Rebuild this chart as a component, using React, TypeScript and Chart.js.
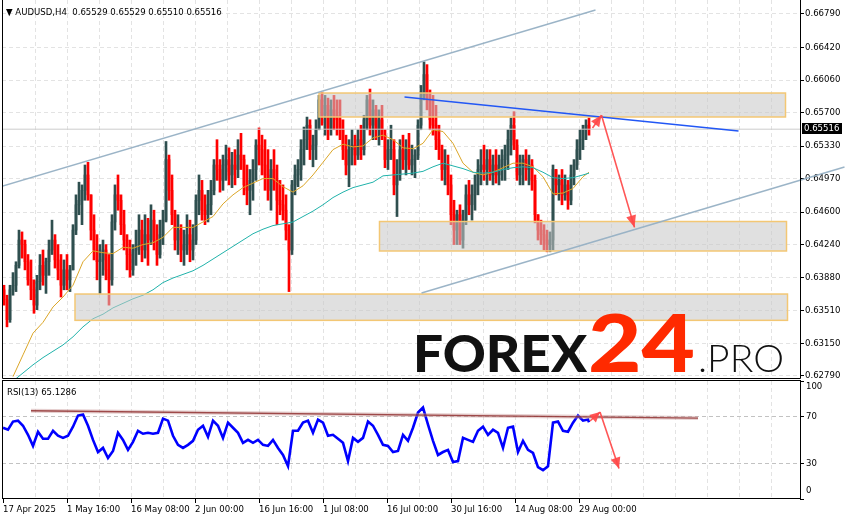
import React, { useEffect, useRef } from 'react';
import { Chart, registerables } from 'chart.js';

Chart.register(...registerables);

// ---------------- DATA ----------------
const HEADER = '\u25BC AUDUSD,H4  0.65529 0.65529 0.65510 0.65516';
const RSI_LABEL = 'RSI(13) 65.1286';
const LAST_PRICE = 0.65516;
const FIRST_OPEN = 0.6374;
const CANDLE_STEP = 3; // H4 bars per drawn candle

const CLOSE = [
  0.6363,0.6341,0.6374,0.6379,0.6401,0.6429,0.6424,0.6405,0.6385,0.6374,
  0.6357,0.6383,0.6401,0.6390,0.6405,0.6418,0.6429,0.6407,0.6396,0.6379,
  0.6396,0.6385,0.6396,0.6440,0.6468,0.6473,0.6484,0.6501,0.6479,0.6440,
  0.6418,0.6405,0.6407,0.6418,0.6396,0.6385,0.6449,0.6479,0.6473,0.6446,
  0.6429,0.6413,0.6396,0.6418,0.6424,0.6440,0.6418,0.6435,0.6429,0.6451,
  0.6429,0.6413,0.6435,0.6451,0.6518,0.6484,0.6457,0.6429,0.6440,0.6418,
  0.6424,0.6435,0.6418,0.6429,0.6473,0.6484,0.6462,0.6457,0.6468,0.6484,
  0.6512,0.6507,0.6495,0.6512,0.6518,0.6501,0.6512,0.6507,0.6523,0.6518,
  0.6490,0.6484,0.6495,0.6507,0.6534,0.6529,0.6512,0.6501,0.6484,0.6507,
  0.6495,0.6473,0.6468,0.6462,0.6440,0.6418,0.6490,0.6501,0.6507,0.6529,
  0.6540,0.6556,0.6529,0.6534,0.6551,0.6584,0.6567,0.6578,0.6551,0.6573,
  0.6567,0.6562,0.6551,0.6529,0.6512,0.6529,0.6534,0.6523,0.6540,0.6529,
  0.6562,0.6584,0.6556,0.6573,0.6551,0.6562,0.6545,0.6518,0.6529,0.6529,
  0.6490,0.6501,0.6529,0.6518,0.6529,0.6512,0.6518,0.6523,0.6556,0.6589,
  0.6612,0.6584,0.6562,0.6556,0.6540,0.6529,0.6507,0.6512,0.6490,0.6457,
  0.6440,0.6457,0.6429,0.6451,0.6479,0.6468,0.6479,0.6490,0.6507,0.6512,
  0.6507,0.6518,0.6501,0.6512,0.6501,0.6512,0.6518,0.6523,0.6540,0.6556,
  0.6534,0.6501,0.6512,0.6518,0.6507,0.6512,0.6495,0.6457,0.6440,0.6435,
  0.6429,0.6424,0.6429,0.6507,0.6490,0.6495,0.6479,0.6490,0.6473,0.6501,
  0.6512,0.6529,0.6540,0.6551,0.6556,0.6552
];

const HIGH = [
  0.6379,0.6368,0.6379,0.6393,0.6405,0.6440,0.6438,0.6429,0.6413,0.6407,
  0.6385,0.6390,0.6413,0.6418,0.6409,0.6429,0.6451,0.6435,0.6424,0.6413,
  0.6407,0.6413,0.6401,0.6446,0.6479,0.6493,0.6490,0.6512,0.6515,0.6479,
  0.6457,0.6435,0.6424,0.6429,0.6424,0.6413,0.6457,0.6490,0.6501,0.6479,
  0.6462,0.6435,0.6429,0.6424,0.6440,0.6457,0.6451,0.6457,0.6453,0.6468,
  0.6462,0.6446,0.6451,0.6462,0.6538,0.6523,0.6501,0.6462,0.6457,0.6446,
  0.6440,0.6457,0.6451,0.6446,0.6479,0.6501,0.6495,0.6479,0.6484,0.6495,
  0.6518,0.6540,0.6518,0.6523,0.6534,0.6531,0.6526,0.6529,0.6540,0.6547,
  0.6523,0.6512,0.6507,0.6518,0.6540,0.6553,0.6545,0.6540,0.6529,0.6518,
  0.6529,0.6512,0.6495,0.6490,0.6479,0.6446,0.6495,0.6512,0.6518,0.6540,
  0.6554,0.6565,0.6562,0.6545,0.6562,0.6589,0.6592,0.6589,0.6586,0.6584,
  0.6589,0.6584,0.6584,0.6562,0.6545,0.6540,0.6551,0.6545,0.6551,0.6556,
  0.6567,0.6589,0.6596,0.6584,0.6578,0.6573,0.6578,0.6551,0.6540,0.6556,
  0.6540,0.6518,0.6540,0.6545,0.6540,0.6547,0.6534,0.6529,0.6562,0.6600,
  0.6626,0.6623,0.6595,0.6589,0.6578,0.6556,0.6534,0.6529,0.6523,0.6501,
  0.6473,0.6462,0.6468,0.6462,0.6490,0.6495,0.6490,0.6501,0.6518,0.6529,
  0.6534,0.6529,0.6529,0.6523,0.6529,0.6523,0.6529,0.6534,0.6551,0.6564,
  0.6571,0.6540,0.6523,0.6523,0.6529,0.6523,0.6518,0.6501,0.6457,0.6451,
  0.6446,0.6440,0.6438,0.6512,0.6507,0.6501,0.6507,0.6501,0.6495,0.6512,
  0.6518,0.6540,0.6551,0.6556,0.6562,0.6564
];

const LOW = [
  0.6357,0.6333,0.6338,0.6368,0.6372,0.6398,0.6409,0.6396,0.6379,0.6363,
  0.6348,0.6352,0.6374,0.6379,0.6370,0.6390,0.6413,0.6398,0.6385,0.6366,
  0.6374,0.6374,0.6372,0.6396,0.6435,0.6457,0.6446,0.6473,0.6473,0.6429,
  0.6407,0.6385,0.6370,0.6390,0.6385,0.6357,0.6379,0.6440,0.6462,0.6435,
  0.6418,0.6396,0.6388,0.6390,0.6401,0.6413,0.6405,0.6409,0.6401,0.6424,
  0.6418,0.6401,0.6409,0.6424,0.6449,0.6473,0.6446,0.6418,0.6413,0.6405,
  0.6401,0.6413,0.6405,0.6407,0.6424,0.6457,0.6451,0.6446,0.6449,0.6457,
  0.6479,0.6495,0.6482,0.6484,0.6495,0.6490,0.6487,0.6490,0.6498,0.6507,
  0.6479,0.6468,0.6457,0.6473,0.6495,0.6512,0.6501,0.6484,0.6473,0.6462,
  0.6484,0.6446,0.6457,0.6451,0.6429,0.6372,0.6413,0.6479,0.6488,0.6495,
  0.6512,0.6529,0.6518,0.6510,0.6518,0.6551,0.6556,0.6545,0.6540,0.6545,
  0.6551,0.6545,0.6540,0.6518,0.6501,0.6488,0.6512,0.6512,0.6518,0.6518,
  0.6523,0.6551,0.6545,0.6540,0.6540,0.6534,0.6540,0.6509,0.6507,0.6518,
  0.6479,0.6455,0.6495,0.6507,0.6501,0.6507,0.6501,0.6498,0.6518,0.6551,
  0.6584,0.6573,0.6551,0.6545,0.6529,0.6518,0.6495,0.6490,0.6479,0.6446,
  0.6424,0.6424,0.6424,0.6420,0.6446,0.6457,0.6451,0.6462,0.6479,0.6490,
  0.6495,0.6490,0.6495,0.6490,0.6492,0.6490,0.6495,0.6495,0.6507,0.6523,
  0.6529,0.6495,0.6490,0.6490,0.6495,0.6490,0.6484,0.6448,0.6429,0.6424,
  0.6418,0.6416,0.6416,0.6418,0.6479,0.6473,0.6468,0.6473,0.6463,0.6468,
  0.6490,0.6507,0.6518,0.6529,0.6540,0.6545
];

const MA_STEP = 10; // bars between moving-average readings
const MA_ORANGE = [
  0.6278,0.6302,0.6326,0.6338,0.6355,0.6366,0.6379,0.6405,0.6417,0.6415,
  0.6414,0.6421,0.6420,0.6424,0.6426,0.6432,0.6443,0.6443,0.6443,0.6449,
  0.6455,0.6469,0.6479,0.6487,0.6492,0.6497,0.6497,0.6488,0.6482,0.6489,
  0.6501,0.6515,0.6529,0.6535,0.6532,0.6533,0.6542,0.6545,0.6540,0.6531,
  0.6530,0.6536,0.6551,0.6549,0.6536,0.6514,0.6504,0.6501,0.6504,0.6509,
  0.6514,0.6514,0.6510,0.6499,0.6480,0.6481,0.6486,0.6499,0.6504
];
const MA_TEAL = [
  0.6273,0.6282,0.6291,0.6299,0.6306,0.6313,0.6322,0.6333,0.6342,0.6347,
  0.6354,0.6359,0.6364,0.6368,0.6374,0.6382,0.6387,0.6391,0.6395,0.6401,
  0.6408,0.6415,0.6422,0.6429,0.6436,0.6441,0.6445,0.6447,0.6449,0.6455,
  0.6461,0.6468,0.6476,0.6482,0.6487,0.6490,0.6493,0.6500,0.6501,0.6502,
  0.6503,0.6505,0.6510,0.6514,0.6511,0.6508,0.6504,0.6503,0.6504,0.6507,
  0.6509,0.6510,0.6509,0.6504,0.6498,0.6497,0.6498,0.6501,0.6503
];

const RSI_STEP = 5; // bars between RSI readings
const RSI = [
  60.4,58.7,65.6,66.4,62.1,54.4,45.0,57.0,51.0,51.0,
  57.8,53.6,51.8,53.6,61.3,70.7,71.6,62.1,50.1,39.8,
  43.3,34.7,40.7,56.1,50.1,41.6,48.4,57.8,55.3,56.1,
  55.3,56.1,68.1,66.4,53.6,45.9,43.3,45.9,49.3,58.7,
  62.1,52.7,66.4,62.1,51.8,64.7,60.4,56.1,47.6,50.1,
  47.6,50.1,45.9,45.0,50.1,43.3,37.3,27.8,57.8,57.8,
  64.7,66.4,56.1,67.3,64.7,53.6,54.4,51.0,47.6,32.1,
  51.8,48.4,51.8,65.6,62.1,54.4,45.9,45.0,39.8,40.7,
  54.4,49.3,60.4,73.3,77.5,63.0,49.3,37.3,39.8,41.6,
  31.3,32.1,51.8,50.1,48.4,57.8,61.3,54.4,58.7,56.1,
  43.3,60.4,61.3,39.8,49.3,41.6,39.0,27.0,24.4,27.8,
  64.7,65.6,57.8,57.0,64.7,70.7,66.4,67.3,65.1
];

const PRICE_TICKS = [0.6679,0.6642,0.6606,0.6570,0.6533,0.6497,0.6460,0.6424,0.6388,0.6351,0.6315,0.6279];
const RSI_TICKS = [0, 30, 70, 100];
const RSI_LEVELS = [30, 70];
const TIME_LABELS = ['17 Apr 2025','1 May 16:00','16 May 08:00','2 Jun 00:00','16 Jun 16:00','1 Jul 08:00','16 Jul 00:00','30 Jul 16:00','14 Aug 08:00','29 Aug 00:00'];
const TIME_LABEL_STEP = 64; // bars between time labels
const GRID_STEP = 32;       // bars between vertical grid lines

// drawn objects (bar index, price)
const UPPER_CHANNEL = [{ x: -3.5, y: 0.64877 }, { x: 592.5, y: 0.66834 }];
const LOWER_CHANNEL = [{ x: 418.5, y: 0.63704 }, { x: 841.5, y: 0.65098 }];
const RESISTANCE = [{ x: 401.5, y: 0.65872 }, { x: 735.5, y: 0.65496 }];
const ARROW_UP = [{ x: 589.5, y: 0.6553 }, { x: 598.5, y: 0.6567 }];
const ARROW_DOWN = [{ x: 598.5, y: 0.6567 }, { x: 631.5, y: 0.6443 }];
const ZONES = [
  { from: 316, to: 782.5, top: 0.65916, bottom: 0.65651 },
  { from: 376.5, to: 783.5, top: 0.64495, bottom: 0.64169 },
  { from: 72, to: 784.5, top: 0.63693, bottom: 0.63402 }
];
const RSI_TREND = [{ x: 28, y: 74.8 }, { x: 695, y: 68.6 }];
const RSI_ARROW_UP = [{ x: 587, y: 66.1 }, { x: 597, y: 73.7 }];
const RSI_ARROW_DOWN = [{ x: 597, y: 73.7 }, { x: 616, y: 25.8 }];

// ---------------- STYLE ----------------
const FONT_FAMILY = "'DejaVu Sans Condensed', 'Liberation Sans', sans-serif";
const FONT_SIZE = 9.5;
const BULL = '#2f4f4f';
const BEAR = '#ff0000';
const GRID = '#e3e3e3';
const ARROW_COLOR = 'rgba(255,72,72,0.92)';
const X_MIN = -1, X_MAX = 797;
const P_MIN = 0.627644, P_MAX = 0.669448;

const LAST_BAR = (CLOSE.length - 1) * CANDLE_STEP + 1;
const OPEN = CLOSE.map((c, i) => (i === 0 ? FIRST_OPEN : CLOSE[i - 1]));
const CANDLE_X = CLOSE.map((_, i) => i * CANDLE_STEP + 1);
const CANDLE_COLORS = CLOSE.map((c, i) => (c >= OPEN[i] ? BULL : BEAR));
const maPoints = (arr: number[]) => arr.map((v, i) => ({ x: i === arr.length - 1 ? LAST_BAR : (i + 1) * MA_STEP, y: v }));
const rsiPoints = RSI.map((v, i) => ({ x: i === RSI.length - 1 ? LAST_BAR : i * RSI_STEP, y: v }));
const GRID_BARS: number[] = [];
for (let b = 0; b <= 796; b += GRID_STEP) GRID_BARS.push(b);

function lineDs(data: any[], color: string, width: number, order: number, extra: any = {}) {
  return { type: 'line', data, borderColor: color, borderWidth: width, pointRadius: 0, fill: false, tension: 0, order, ...extra };
}

function arrowHead(ctx: CanvasRenderingContext2D, from: number[], to: number[], len: number, half: number, color: string) {
  const a = Math.atan2(to[1] - from[1], to[0] - from[0]);
  const bx = to[0] - len * Math.cos(a), by = to[1] - len * Math.sin(a);
  ctx.save();
  ctx.fillStyle = color;
  ctx.beginPath();
  ctx.moveTo(to[0], to[1]);
  ctx.lineTo(bx + half * Math.sin(a), by - half * Math.cos(a));
  ctx.lineTo(bx - half * Math.sin(a), by + half * Math.cos(a));
  ctx.closePath();
  ctx.fill();
  ctx.restore();
}

function fitText(ctx: CanvasRenderingContext2D, text: string, x: number, base: number, width: number, font: string, color: string) {
  ctx.save();
  ctx.font = font;
  const w = ctx.measureText(text).width || 1;
  ctx.translate(x, base);
  ctx.scale(width / w, 1);
  ctx.fillStyle = color;
  ctx.textBaseline = 'alphabetic';
  ctx.textAlign = 'left';
  ctx.fillText(text, 0, 0);
  ctx.restore();
}

function toPx(chart: any, p: any) {
  return [chart.scales.x.getPixelForValue(p.x), chart.scales.y.getPixelForValue(p.y)];
}

const IDX_TEAL = 3;

const mainPlugin = {
  id: 'mt4main',
  afterDatasetDraw(chart: any, args: any) {
    if (args.index !== IDX_TEAL) return;
    const ctx = chart.ctx;
    const { x, y } = chart.scales;
    ctx.save();
    ZONES.forEach((z) => {
      const x0 = x.getPixelForValue(z.from), x1 = x.getPixelForValue(z.to);
      const y0 = y.getPixelForValue(z.top), y1 = y.getPixelForValue(z.bottom);
      ctx.fillStyle = 'rgba(200,200,200,0.56)';
      ctx.fillRect(x0, y0, x1 - x0, y1 - y0);
      ctx.strokeStyle = '#f3c774';
      ctx.lineWidth = 1.5;
      ctx.strokeRect(x0, y0, x1 - x0, y1 - y0);
    });
    ctx.restore();
  },
  afterDatasetsDraw(chart: any) {
    const ctx = chart.ctx;
    arrowHead(ctx, toPx(chart, ARROW_UP[0]), toPx(chart, ARROW_UP[1]), 11, 5, ARROW_COLOR);
    arrowHead(ctx, toPx(chart, ARROW_DOWN[0]), toPx(chart, ARROW_DOWN[1]), 12, 5, ARROW_COLOR);
    // watermark
    fitText(ctx, 'FOREX', 413, 372, 174, "900 52px Lato, Roboto, 'Open Sans', sans-serif", '#111111');
    fitText(ctx, '24', 588, 372, 107, "900 80px Lato, Roboto, 'Open Sans', sans-serif", '#ff2a00');
    fitText(ctx, '.PRO', 698, 372, 86, "300 38px Lato, Roboto, 'Open Sans', sans-serif", '#111111');
  },
  afterDraw(chart: any) {
    const ctx = chart.ctx;
    const a = chart.chartArea;
    ctx.save();
    ctx.strokeStyle = '#000';
    ctx.lineWidth = 1;
    ctx.beginPath();
    ctx.moveTo(a.left + 0.5, a.top);
    ctx.lineTo(a.left + 0.5, a.bottom + 0.5);
    ctx.lineTo(a.right + 0.5, a.bottom + 0.5);
    ctx.lineTo(a.right + 0.5, a.top);
    ctx.stroke();
    ctx.font = FONT_SIZE + 'px ' + FONT_FAMILY;
    ctx.fillStyle = '#000';
    ctx.textBaseline = 'alphabetic';
    ctx.fillText(HEADER, 6, 15);
    const py = Math.round(chart.scales.y.getPixelForValue(LAST_PRICE));
    ctx.fillStyle = '#000';
    ctx.fillRect(802, py - 6, 40, 11);
    ctx.fillStyle = '#fff';
    ctx.textBaseline = 'middle';
    ctx.fillText(LAST_PRICE.toFixed(5), 804, py);
    ctx.restore();
  }
};

const rsiPlugin = {
  id: 'mt4rsi',
  afterDatasetsDraw(chart: any) {
    const ctx = chart.ctx;
    arrowHead(ctx, toPx(chart, RSI_ARROW_UP[0]), toPx(chart, RSI_ARROW_UP[1]), 10, 5, ARROW_COLOR);
    arrowHead(ctx, toPx(chart, RSI_ARROW_DOWN[0]), toPx(chart, RSI_ARROW_DOWN[1]), 11, 5, ARROW_COLOR);
  },
  afterDraw(chart: any) {
    const ctx = chart.ctx;
    const a = chart.chartArea;
    ctx.save();
    ctx.strokeStyle = '#000';
    ctx.lineWidth = 1;
    ctx.strokeRect(a.left + 0.5, a.top - 0.5, a.right - a.left, a.bottom - a.top);
    ctx.font = FONT_SIZE + 'px ' + FONT_FAMILY;
    ctx.fillStyle = '#000';
    ctx.textBaseline = 'alphabetic';
    ctx.fillText(RSI_LABEL, 7, 15.5);
    ctx.textBaseline = 'middle';
    RSI_TICKS.forEach((v) => {
      let py = chart.scales.y.getPixelForValue(v);
      py = Math.min(Math.max(py, a.top + 6), a.bottom - 8);
      ctx.fillText(String(v), 806, py);
    });
    ctx.restore();
  }
};

function mainConfig(): any {
  return {
    type: 'bar',
    data: {
      datasets: [
        { type: 'bar', data: CANDLE_X.map((x, i) => ({ x, y: [LOW[i], HIGH[i]] })), backgroundColor: CANDLE_COLORS, barThickness: 2, grouped: false, order: 10 },
        { type: 'bar', data: CANDLE_X.map((x, i) => ({ x, y: [OPEN[i], CLOSE[i]] })), backgroundColor: CANDLE_COLORS, barThickness: 2, grouped: false, order: 9 },
        lineDs(maPoints(MA_ORANGE), '#dba628', 1, 8),
        lineDs(maPoints(MA_TEAL), '#20b2aa', 1, 7),
        lineDs([{ x: X_MIN, y: LAST_PRICE }, { x: X_MAX, y: LAST_PRICE }], '#cccccc', 1, 6),
        lineDs(UPPER_CHANNEL, 'rgba(150,176,196,0.95)', 1.5, 5),
        lineDs(LOWER_CHANNEL, 'rgba(150,176,196,0.95)', 1.5, 4, { clip: false }),
        lineDs(RESISTANCE, '#2257f5', 1.5, 3),
        lineDs(ARROW_UP, ARROW_COLOR, 1.6, 2),
        lineDs(ARROW_DOWN, ARROW_COLOR, 1.6, 1)
      ]
    },
    options: {
      animation: false,
      responsive: false,
      devicePixelRatio: 1,
      events: [],
      layout: { padding: { left: 2, right: 0, top: 0, bottom: 1 } },
      plugins: { legend: { display: false }, tooltip: { enabled: false } },
      scales: {
        x: {
          type: 'linear', min: X_MIN, max: X_MAX, offset: false,
          afterBuildTicks: (s: any) => { s.ticks = GRID_BARS.map((v) => ({ value: v })); },
          afterFit: (s: any) => { s.height = 0; s.paddingLeft = 0; s.paddingRight = 0; },
          ticks: { display: false },
          grid: { offset: false, drawTicks: false, color: (c: any) => (c.tick && c.tick.value === 0 ? 'rgba(0,0,0,0)' : GRID) },
          border: { display: false, dash: [4, 3] }
        },
        y: {
          type: 'linear', position: 'right', min: P_MIN, max: P_MAX,
          afterBuildTicks: (s: any) => { s.ticks = PRICE_TICKS.map((v) => ({ value: v })); },
          afterFit: (s: any) => { s.width = 45; s.paddingTop = 0; s.paddingBottom = 0; },
          ticks: { color: '#000', padding: 1, font: { family: FONT_FAMILY, size: FONT_SIZE }, callback: (v: any) => Number(v).toFixed(5) },
          grid: { color: GRID, tickColor: '#000', tickLength: 4, tickBorderDash: [] },
          border: { display: false, dash: [4, 3] }
        }
      }
    },
    plugins: [mainPlugin]
  };
}

function rsiConfig(): any {
  return {
    type: 'line',
    data: {
      datasets: [
        lineDs(rsiPoints, '#0000ff', 2.6, 5),
        lineDs(RSI_TREND, 'rgba(200,150,150,0.45)', 4, 4),
        lineDs(RSI_TREND, 'rgba(140,40,40,0.8)', 1.3, 3),
        lineDs(RSI_ARROW_UP, ARROW_COLOR, 1.6, 2),
        lineDs(RSI_ARROW_DOWN, ARROW_COLOR, 1.6, 1)
      ]
    },
    options: {
      animation: false,
      responsive: false,
      devicePixelRatio: 1,
      events: [],
      layout: { padding: { left: 2, right: 0, top: 2, bottom: 0 } },
      plugins: { legend: { display: false }, tooltip: { enabled: false } },
      scales: {
        x: {
          type: 'linear', min: X_MIN, max: X_MAX, offset: false,
          afterBuildTicks: (s: any) => { s.ticks = GRID_BARS.map((v) => ({ value: v })); },
          afterFit: (s: any) => { s.height = 20; s.paddingLeft = 0; s.paddingRight = 0; },
          ticks: {
            autoSkip: false, maxRotation: 0, minRotation: 0, align: 'start', padding: 1, color: '#000',
            font: { family: FONT_FAMILY, size: FONT_SIZE },
            callback: (v: any) => (Number(v) % TIME_LABEL_STEP === 0 ? (TIME_LABELS[Number(v) / TIME_LABEL_STEP] || '') : '')
          },
          grid: {
            offset: false, tickLength: 4, tickBorderDash: [],
            color: (c: any) => (c.tick && c.tick.value === 0 ? 'rgba(0,0,0,0)' : GRID),
            tickColor: (c: any) => (c.tick && c.tick.value % TIME_LABEL_STEP === 0 && TIME_LABELS[c.tick.value / TIME_LABEL_STEP] ? '#000' : 'rgba(0,0,0,0)')
          },
          border: { display: false, dash: [4, 3] }
        },
        y: {
          type: 'linear', position: 'right', min: 0, max: 100,
          afterBuildTicks: (s: any) => { s.ticks = RSI_TICKS.map((v) => ({ value: v })); },
          afterFit: (s: any) => { s.width = 45; s.paddingTop = 0; s.paddingBottom = 0; },
          ticks: { display: false },
          grid: { color: (c: any) => (c.tick && RSI_LEVELS.includes(c.tick.value) ? '#c2c2c2' : 'rgba(0,0,0,0)'), tickColor: '#000', tickLength: 4, tickBorderDash: [] },
          border: { display: false, dash: [4, 3] }
        }
      }
    },
    plugins: [rsiPlugin]
  };
}

export default function App() {
  const mainRef = useRef<HTMLCanvasElement>(null);
  const rsiRef = useRef<HTMLCanvasElement>(null);
  useEffect(() => {
    const c1 = new Chart(mainRef.current as HTMLCanvasElement, mainConfig());
    const c2 = new Chart(rsiRef.current as HTMLCanvasElement, rsiConfig());
    return () => { c1.destroy(); c2.destroy(); };
  }, []);
  return (
    <div style={{ position: 'absolute', left: 0, top: 0, width: 845, height: 519, background: '#fff', overflow: 'hidden' }}>
      <canvas ref={mainRef} width={845} height={379} style={{ position: 'absolute', left: 0, top: 0 }} />
      <canvas ref={rsiRef} width={845} height={140} style={{ position: 'absolute', left: 0, top: 379 }} />
    </div>
  );
}
